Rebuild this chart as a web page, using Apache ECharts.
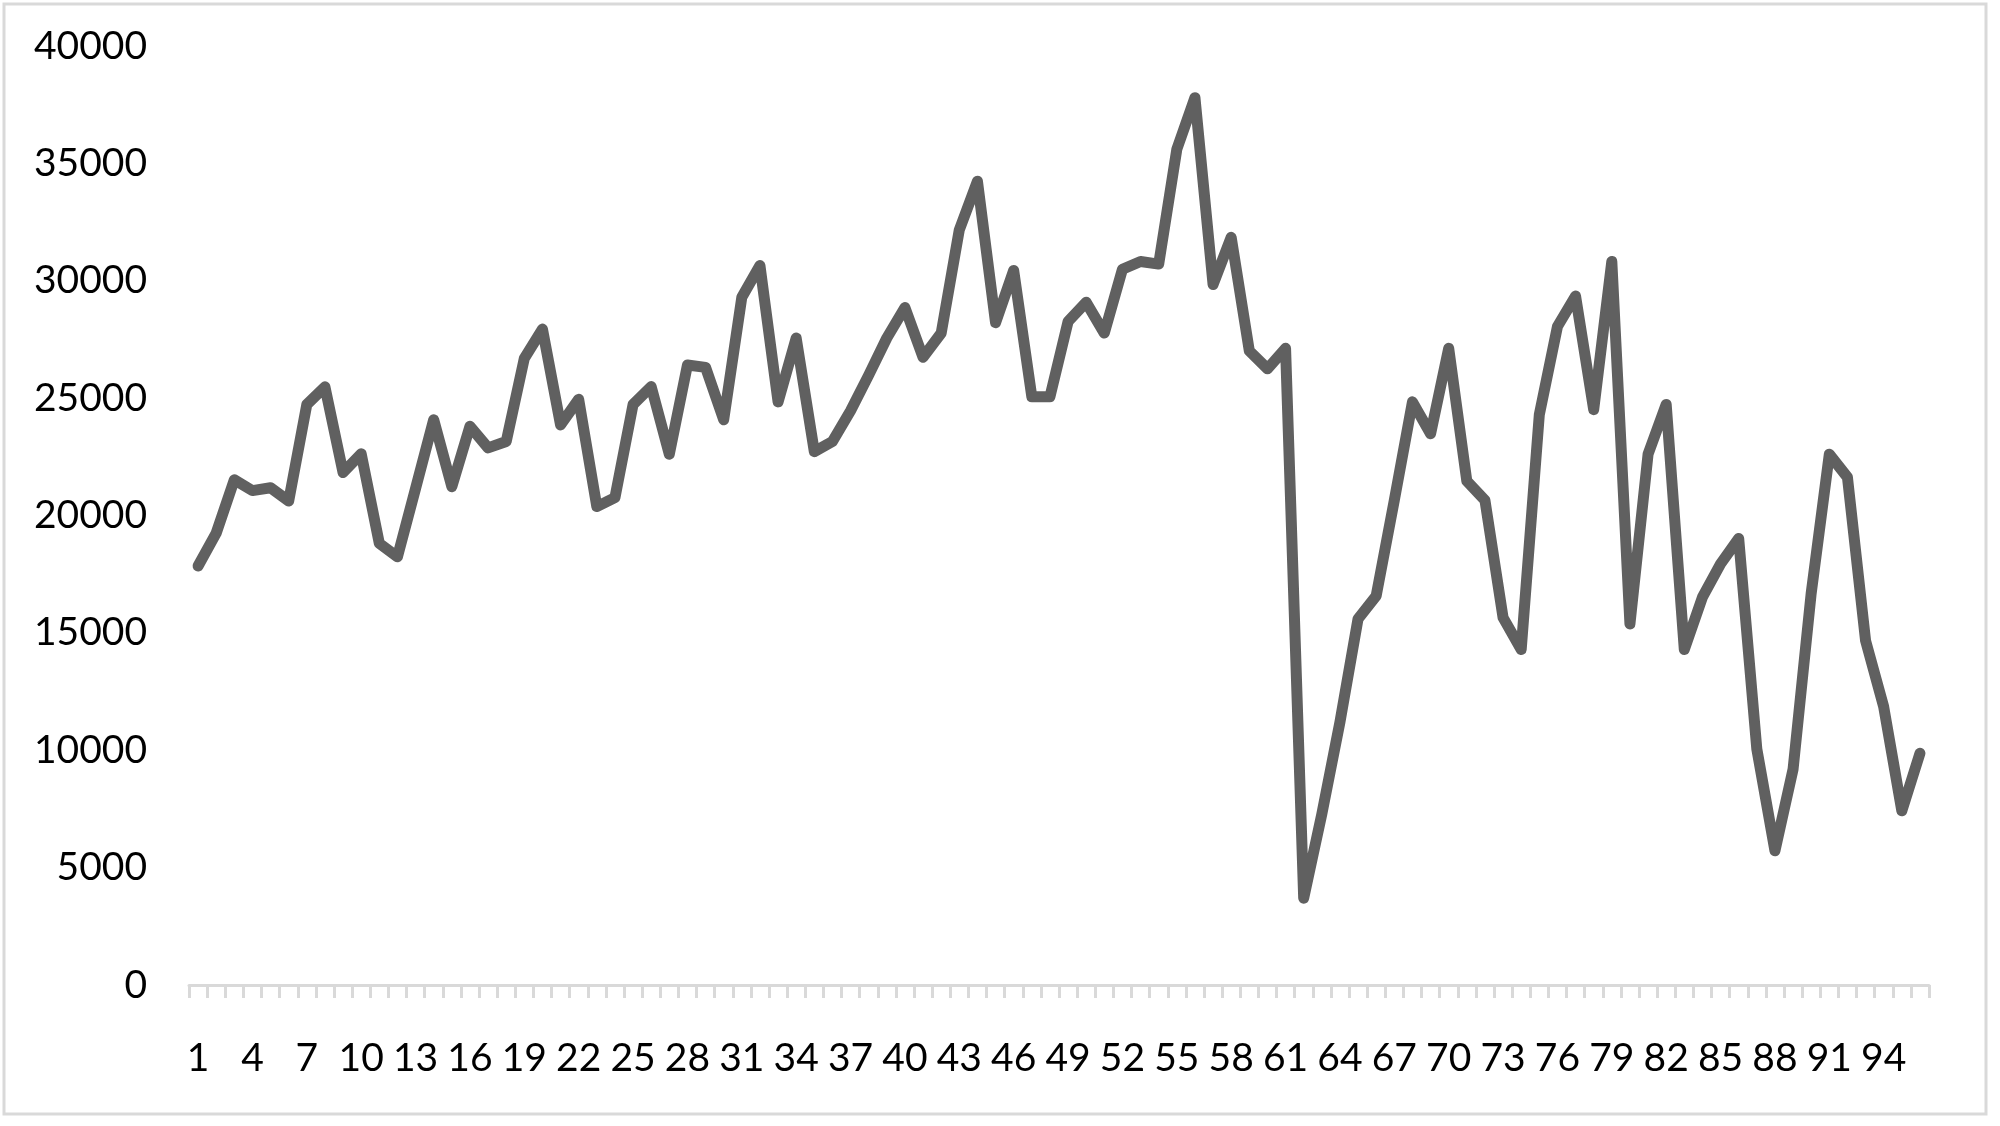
<!DOCTYPE html>
<html>
<head>
<meta charset="utf-8">
<script src="https://cdn.jsdelivr.net/npm/echarts@6/dist/echarts.min.js"></script>
<style>
html,body{margin:0;padding:0;background:#fff;}
#chart{width:2000px;height:1126px;}
</style>
</head>
<body>
<div id="chart"></div>
<script>
var categories = ["1","2","3","4","5","6","7","8","9","10","11","12","13","14","15","16","17","18","19","20",
"21","22","23","24","25","26","27","28","29","30","31","32","33","34","35","36","37","38","39","40",
"41","42","43","44","45","46","47","48","49","50","51","52","53","54","55","56","57","58","59","60",
"61","62","63","64","65","66","67","68","69","70","71","72","73","74","75","76","77","78","79","80",
"81","82","83","84","85","86","87","88","89","90","91","92","93","94","95","96"];

var values = [17850,19250,21520,21060,21180,20620,24730,25480,21830,22630,18810,18240,21150,24080,21230,23800,22880,23150,26690,27940,
23860,24950,20380,20760,24730,25490,22610,26410,26310,24080,29300,30650,24840,27560,22720,23150,24460,25980,27560,28860,
26740,27770,32170,34240,28210,30440,25060,25060,28260,29080,27770,30490,30820,30710,35600,37800,29840,31850,27010,26250,
27120,3700,7280,11200,15600,16580,20650,24840,23480,27120,21470,20650,15650,14290,24300,28050,29350,24510,30820,15380,
22610,24730,14290,16520,17940,19020,10050,5720,9190,16690,22610,21630,14670,11850,7420,9870];

var yTicks = {min: 0, max: 40000, interval: 5000};

var chart = echarts.init(document.getElementById('chart'));
chart.setOption({
  backgroundColor: '#ffffff',
  animation: false,
  graphic: [{
    type: 'rect',
    shape: {x: 4, y: 4, width: 1982, height: 1110},
    style: {fill: 'none', stroke: '#d9d9d9', lineWidth: 3}
  }],
  grid: {left: 189, right: 71, top: 46, bottom: 141},
  xAxis: {
    type: 'category',
    data: categories,
    boundaryGap: true,
    axisLine: {show: true, lineStyle: {color: '#d9d9d9', width: 3}},
    axisTick: {show: true, interval: 0, length: 13, lineStyle: {color: '#d9d9d9', width: 3}},
    axisLabel: {interval: 2, margin: 54, color: '#000', fontFamily: 'Lato', fontSize: 39},
    splitLine: {show: false}
  },
  yAxis: {
    type: 'value',
    min: yTicks.min,
    max: yTicks.max,
    interval: yTicks.interval,
    axisLine: {show: false},
    axisTick: {show: false},
    splitLine: {show: false},
    axisLabel: {margin: 42, color: '#000', fontFamily: 'Lato', fontSize: 39,
      formatter: function (v) { return String(v); }}
  },
  series: [{
    type: 'line',
    data: values,
    showSymbol: false,
    symbol: 'none',
    lineStyle: {color: '#606060', width: 11, join: 'round', cap: 'round'},
    itemStyle: {color: '#606060'}
  }]
});
</script>
</body>
</html>
